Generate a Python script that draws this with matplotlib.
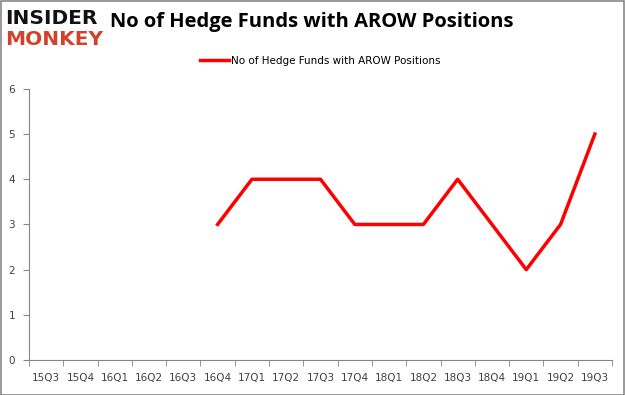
import numpy as np
from matplotlib import pyplot as plt
from matplotlib.patches import Rectangle

quarters = ["15Q3", "15Q4", "16Q1", "16Q2", "16Q3", "16Q4", "17Q1", "17Q2", "17Q3",
            "17Q4", "18Q1", "18Q2", "18Q3", "18Q4", "19Q1", "19Q2", "19Q3"]
funds = [None, None, None, None, None, 3, 4, 4, 4, 3, 3, 3, 4, 3, 2, 3, 5]
y_ticks = [0, 1, 2, 3, 4, 5, 6]

fig = plt.figure(figsize=(6.25, 3.95), dpi=100)
ax = fig.add_axes([0.0464, 0.0886, 0.9328, 0.6864])

x = np.arange(len(quarters))
y = np.array([np.nan if v is None else v for v in funds], dtype=float)
ax.plot(x, y, color="#ff0000", linewidth=2.5, label="No of Hedge Funds with AROW Positions")

ax.set_xlim(-0.5, len(quarters) - 0.5)
ax.set_ylim(0, 6)
ax.set_yticks(y_ticks)
ax.set_xticks(x)
ax.set_xticklabels(quarters)
ax.set_xticks(np.arange(-0.5, len(quarters)), minor=True)
ax.tick_params(axis="x", which="major", length=0, pad=9, labelsize=7.5, labelcolor="#404040")
ax.tick_params(axis="x", which="minor", length=4, color="#868686")
ax.tick_params(axis="y", length=4, color="#868686", labelsize=7.5, labelcolor="#404040", pad=6)

for side in ["top", "right"]:
    ax.spines[side].set_visible(False)
for side in ["left", "bottom"]:
    ax.spines[side].set_color("#868686")

leg = ax.legend(loc="center", bbox_to_anchor=(0.5, 1.103), frameon=False,
                fontsize=7.5, handlelength=2.8, handletextpad=0.2)
for t in leg.get_texts():
    t.set_color("#000000")

fig.text(0.498, 0.944, "No of Hedge Funds with AROW Positions", ha="center", va="center",
         fontsize=14.5, fontweight="bold", family="Open Sans")

# logo
fig.text(0.008, 0.952, "INSIDER", ha="left", va="center", fontsize=14.5, fontweight="bold",
         color="#111111", family="DejaVu Sans")
fig.text(0.008, 0.9, "MONKEY", ha="left", va="center", fontsize=14.5, fontweight="bold",
         color="#d2412d", family="DejaVu Sans")

fig.patches.append(Rectangle((0.001, 0.001), 0.997, 0.997, transform=fig.transFigure,
                             fill=False, edgecolor="#888888", linewidth=1.2))

fig.savefig("out.png", dpi=100)
